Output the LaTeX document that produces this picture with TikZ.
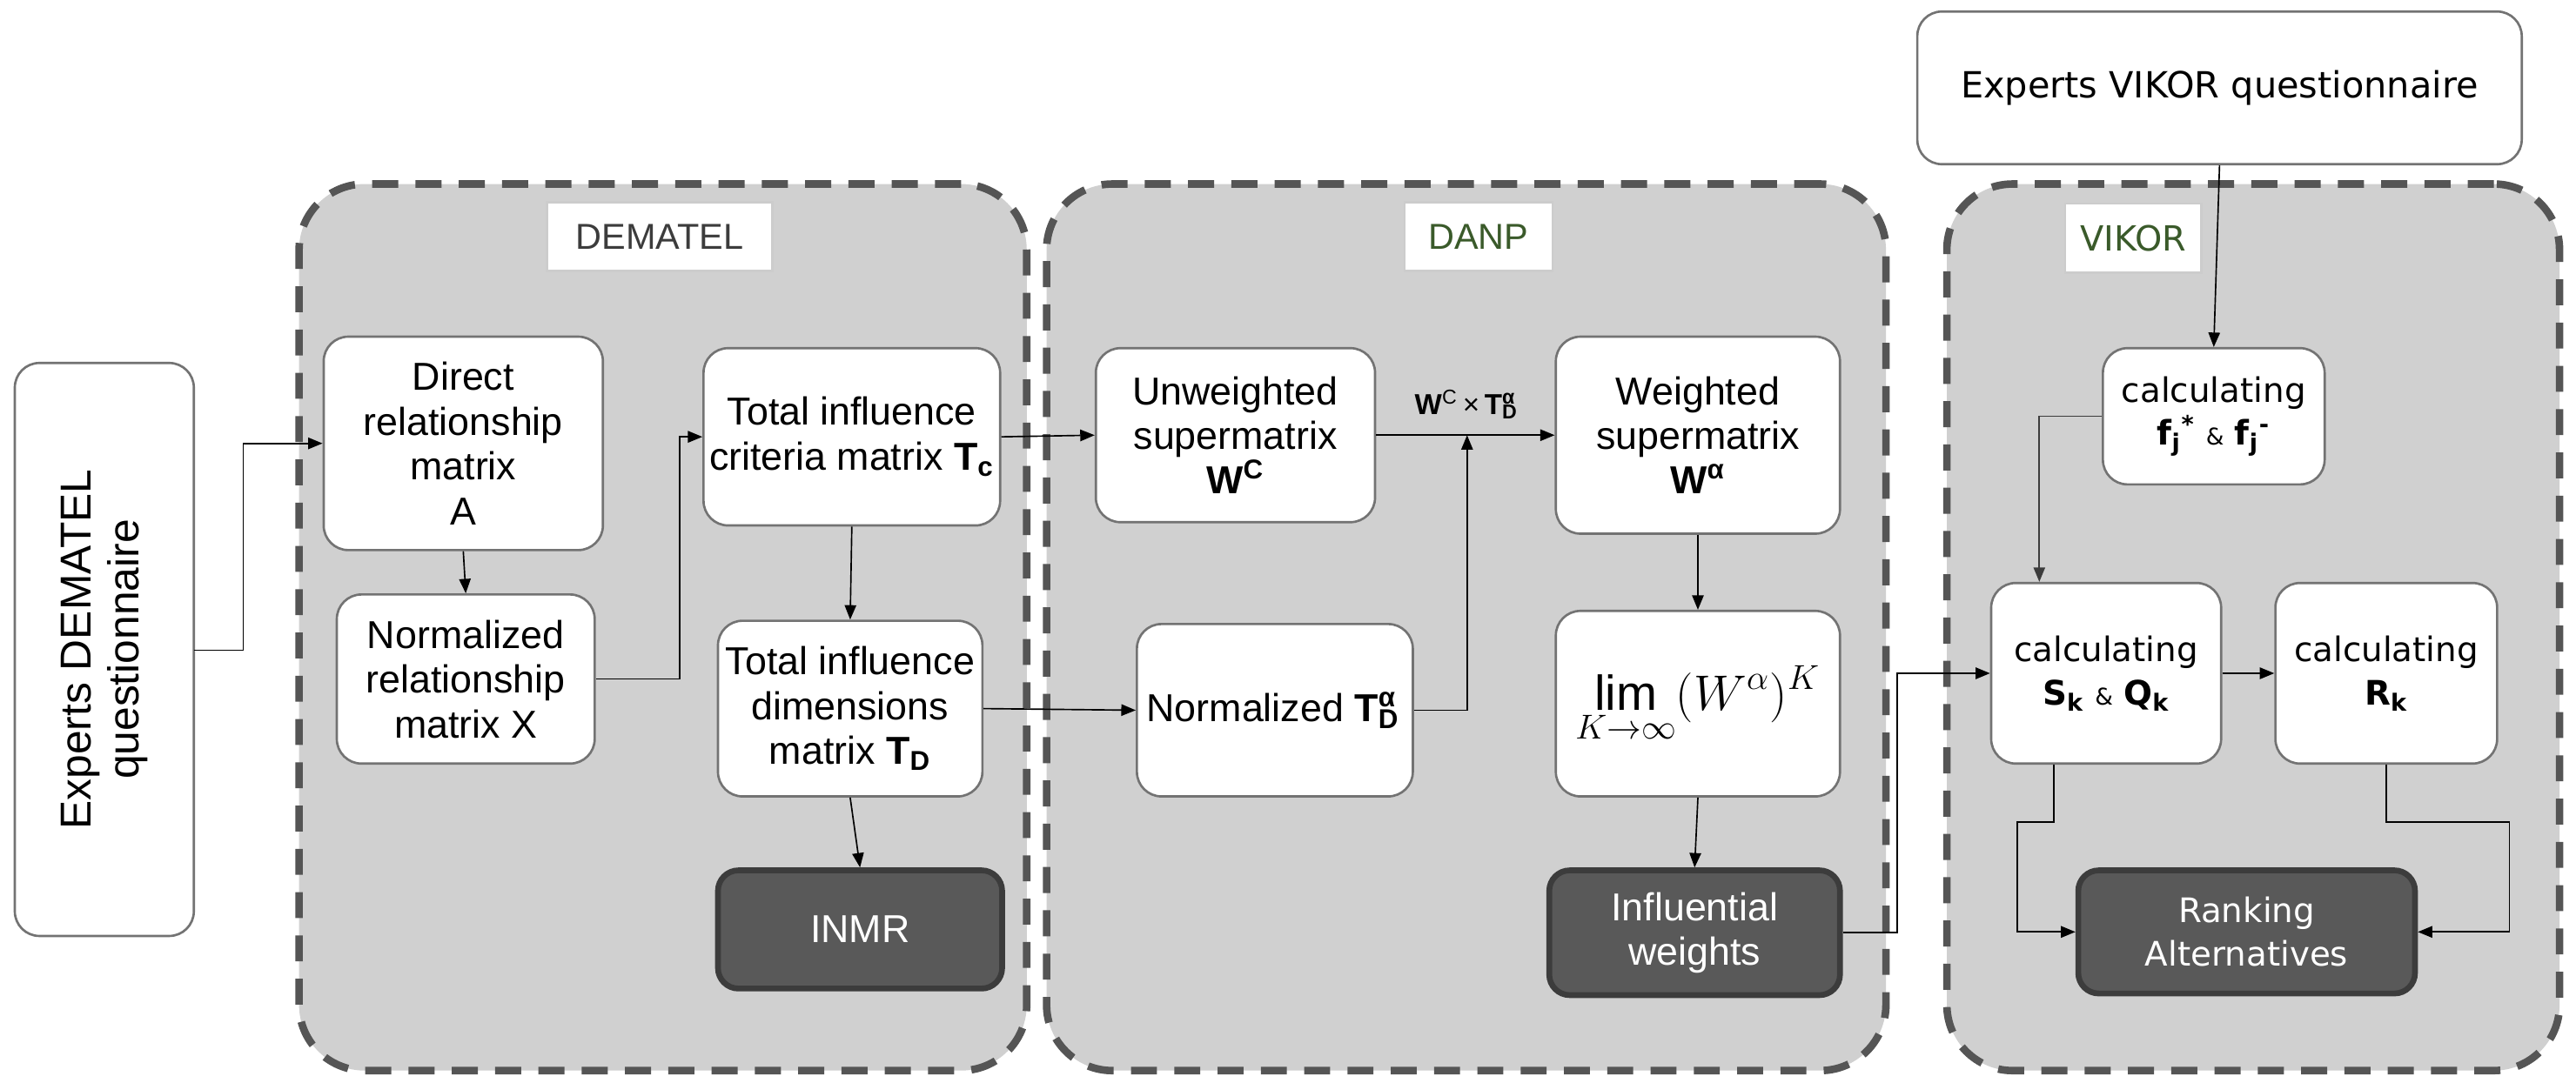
\documentclass[tikz,border=0pt]{standalone}
\usepackage{fontspec}
\setmainfont{Liberation Sans}
\newfontfamily\vfont{DejaVu Sans}
\usetikzlibrary{arrows.meta}
\definecolor{panelgray}{HTML}{D0D0D0}
\definecolor{dashgray}{HTML}{555555}
\definecolor{darkbox}{HTML}{595959}
\definecolor{darkedge}{HTML}{3C3C3C}
\definecolor{lblgreen}{HTML}{3A5A2A}
\begin{document}
\begin{tikzpicture}[x=0.02cm,y=-0.02cm,
  panel/.style={draw=dashgray,fill=panelgray,line width=2.6pt,dash pattern=on 9pt off 6pt,rounded corners=0.8cm},
  box/.style={draw=gray!90!black,fill=white,line width=0.8pt,rounded corners=0.3cm,align=center,inner xsep=2pt,font=\fontsize{13.5}{15.5}\selectfont},
  vbox/.style={box,font=\vfont\fontsize{11.7}{15}\selectfont},
  dark/.style={draw=darkedge,fill=darkbox,line width=2pt,rounded corners=0.25cm,align=center,text=white,font=\fontsize{13.5}{15.5}\selectfont},
  lbl/.style={draw=gray!40,fill=white,line width=0.8pt,minimum width=#1,minimum height=0.84cm,font=\fontsize{12.5}{14}\selectfont},
  arr/.style={-{Triangle[length=5pt,width=4pt]},line width=0.5pt}]
\useasboundingbox (0,0) rectangle (1568,659);
% panels
\node[panel,minimum width=8.86cm,minimum height=10.8cm] (pD) at (403.5,382) {};
\node[panel,minimum width=10.22cm,minimum height=10.8cm] (pA) at (892.5,382) {};
\node[panel,minimum width=7.46cm,minimum height=10.8cm] (pV) at (1371.5,382) {};
% outside boxes
\node[box,minimum width=2.18cm,minimum height=6.98cm] (eD) at (63.5,395.5) {};
\node[rotate=90,align=center,font=\fontsize{15}{16.5}\selectfont] at (eD) {Experts DEMATEL\\questionnaire};
\node[box,minimum width=7.36cm,minimum height=1.86cm,font=\vfont\fontsize{12.5}{15}\selectfont] (eV) at (1351,53.5) {Experts VIKOR questionnaire};
% DEMATEL
\node[box,minimum width=3.4cm,minimum height=2.6cm] (dir) at (282,270) {Direct\\relationship\\matrix\\A};
\node[box,minimum width=3.14cm,minimum height=2.06cm] (nrm) at (283.5,413.5) {Normalized\\relationship\\matrix X};
\node[box,minimum width=3.46cm,minimum height=2.16cm] (tc) at (518.5,266) {Total influence\\criteria matrix \textbf{T\textsubscript{c}}};
\node[box,minimum width=3.22cm,minimum height=2.14cm] (td) at (517.5,431.5) {Total influence\\dimensions\\matrix \textbf{T\textsubscript{D}}};
\node[dark,minimum width=3.46cm,minimum height=1.44cm] (inmr) at (523.5,566) {INMR};
% DANP
\node[box,minimum width=3.4cm,minimum height=2.12cm] (uw) at (752,265) {Unweighted\\supermatrix\\\textbf{W\textsuperscript{C}}};
\node[box,minimum width=3.36cm,minimum height=2.1cm] (ntd) at (776,432.5) {Normalized \textbf{T}\rlap{\textsubscript{\textbf{D}}}\textsuperscript{\textbf{α}}\,};
\node[box,minimum width=3.46cm,minimum height=2.4cm] (ws) at (1033.5,265) {Weighted\\supermatrix\\\textbf{W\textsuperscript{α}}};
\node[box,minimum width=3.46cm,minimum height=2.26cm,font=\fontsize{17}{20}\selectfont] (lim) at (1033.5,428.5) {$\displaystyle\lim_{K\to\infty}(W^{\alpha})^{K}$};
\node[dark,minimum width=3.54cm,minimum height=1.52cm] (inf) at (1031.5,568) {Influential\\weights};
% VIKOR
\node[vbox,minimum width=2.7cm,minimum height=1.66cm] (fj) at (1347.5,253.5) {calculating\\\textbf{f\textsubscript{j}\textsuperscript{*}} {\footnotesize\&} \textbf{f\textsubscript{j}\textsuperscript{-}}};
\node[vbox,minimum width=2.8cm,minimum height=2.2cm] (sk) at (1282,410) {calculating\\\textbf{S\textsubscript{k}} {\footnotesize\&} \textbf{Q\textsubscript{k}}};
\node[vbox,minimum width=2.7cm,minimum height=2.2cm] (rk) at (1452.5,410) {calculating\\\textbf{R\textsubscript{k}}};
\node[dark,minimum width=4.1cm,minimum height=1.5cm,font=\vfont\fontsize{11.7}{15}\selectfont] (rank) at (1367.5,567.5) {Ranking\\Alternatives};
% connectors
\coordinate (eDo) at (118,396);
\draw[arr] (eDo) -- ++(30,0) |- (dir.west);
\draw[arr] (dir.south) -- (nrm.north);
\draw[arr] (nrm.east) -- ++(51,0) |- (tc.west);
\draw[arr] (tc.east) -- (uw.west);
\draw[arr] (tc.south) -- (td.north);
\draw[arr] (td.east) -- (ntd.west);
\draw[arr] (td.south) -- (inmr.north);
\draw[arr] (uw.east) -- node[above=2pt,font=\fontsize{10}{11}\selectfont]{\textbf{W}\textsuperscript{C}\,×\,\textbf{T}\rlap{\textsubscript{\textbf{D}}}\textsuperscript{\textbf{α}}} (ws.west);
\coordinate (j) at (893,265);
\draw[arr] (ntd.east) -| (j);
\draw[arr] (ws.south) -- (lim.north);
\draw[arr] (lim.south) -- (inf.north);
\draw[arr] (inf.east) -- ++(33,0) |- (sk.west);
\draw[arr] (eV.south) -- (fj.north);
\draw[arr,draw=darkedge] (fj.west) -- ++(-38,0) coordinate (fk) -- (fk |- sk.north);
\draw[arr] (sk.east) -- (rk.west);
\draw[arr] (sk.south) ++(-32,0) -- ++(0,35) -| ++(-22,0) |- (rank.west);
\draw[arr] (rk.south) -- ++(0,35) -| ++(75,0) |- (rank.east);
% panel labels
\node[lbl=2.74cm,text=darkedge] at (401.5,144) {DEMATEL};
\node[lbl=1.8cm,text=lblgreen] at (900,144) {DANP};
\node[lbl=1.66cm,text=lblgreen,font=\vfont\fontsize{12}{14}\selectfont] at (1298.5,145) {VIKOR};
\end{tikzpicture}
\end{document}
